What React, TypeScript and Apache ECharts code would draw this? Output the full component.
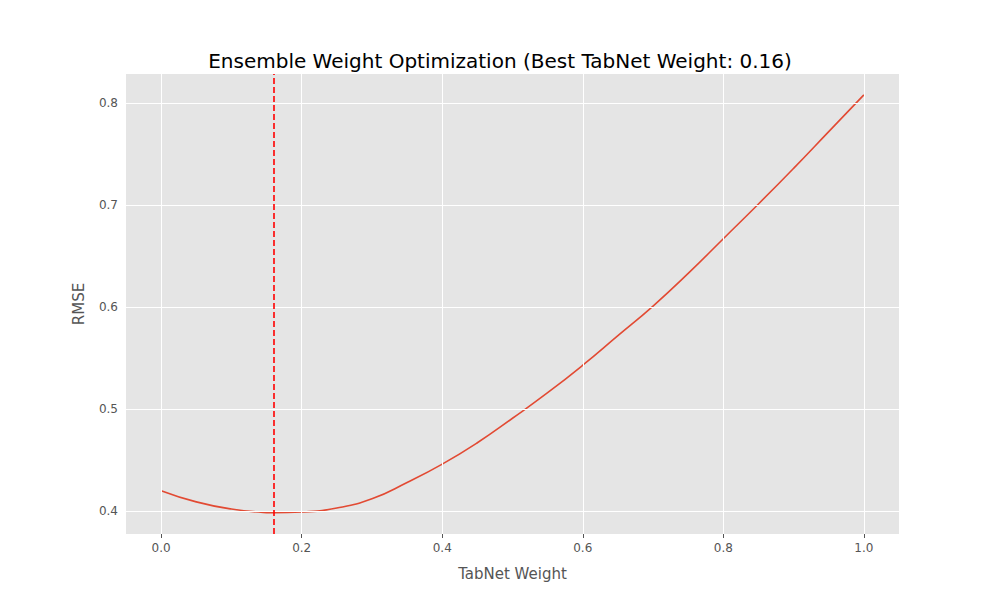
import { useEffect, useRef } from "react";
import * as echarts from "echarts";

const weights = [0, 0.05, 0.1, 0.15, 0.16, 0.2, 0.25, 0.3, 0.35, 0.4, 0.45, 0.5, 0.55, 0.6, 0.65, 0.7, 0.75, 0.8, 0.85, 0.9, 0.95, 1.0];
const rmse = [0.42, 0.409, 0.402, 0.3985, 0.3983, 0.399, 0.403, 0.412, 0.428, 0.446, 0.467, 0.491, 0.516, 0.543, 0.572, 0.601, 0.633, 0.667, 0.701, 0.736, 0.772, 0.808];
const xTicks = [0, 0.2, 0.4, 0.6, 0.8, 1.0];
const yTicks = [0.4, 0.5, 0.6, 0.7, 0.8];
const bestWeight = 0.16;

export default function App() {
    const chartRef = useRef<HTMLDivElement>(null);

    useEffect(() => {
        if (!chartRef.current) return;
        const myChart = echarts.init(chartRef.current, null, { renderer: "svg" });
        const points = weights.map((w, i) => [w, rmse[i]]);
        const gridLine = { color: "#ffffff", width: 1, type: "solid" as const };

        myChart.setOption({
            animation: false,
            title: {
                text: "Ensemble Weight Optimization (Best TabNet Weight: 0.16)",
                left: "center",
                top: 46,
                textStyle: { fontFamily: "DejaVu Sans", fontSize: 20, fontWeight: "normal", color: "#000" },
            },
            grid: { left: 126, right: 101, top: 74, bottom: 66, show: true, backgroundColor: "#E5E5E5", borderWidth: 0 },
            xAxis: {
                type: "value",
                min: -0.05,
                max: 1.05,
                name: "TabNet Weight",
                nameLocation: "middle",
                nameGap: 32,
                nameTextStyle: { fontFamily: "DejaVu Sans", fontSize: 15, color: "#555" },
                axisLine: { show: false },
                splitLine: { show: false },
                axisTick: { show: true, customValues: xTicks, length: 4, lineStyle: { color: "#555" } },
                axisLabel: { customValues: xTicks, fontFamily: "DejaVu Sans", fontSize: 12, color: "#555", formatter: (v: number) => v.toFixed(1) },
            },
            yAxis: {
                type: "value",
                min: 0.3775,
                max: 0.8285,
                name: "RMSE",
                nameLocation: "middle",
                nameGap: 40,
                nameTextStyle: { fontFamily: "DejaVu Sans", fontSize: 15, color: "#555" },
                axisLine: { show: false },
                splitLine: { show: false },
                axisTick: { show: true, customValues: yTicks, length: 4, lineStyle: { color: "#555" } },
                axisLabel: { customValues: yTicks, fontFamily: "DejaVu Sans", fontSize: 12, color: "#555", formatter: (v: number) => v.toFixed(1) },
            },
            series: [
                {
                    type: "line",
                    z: 1,
                    data: points,
                    symbol: "none",
                    silent: true,
                    lineStyle: { opacity: 0 },
                    markLine: {
                        silent: true,
                        symbol: "none",
                        label: { show: false },
                        lineStyle: gridLine,
                        data: [
                            ...xTicks.map((x) => ({ xAxis: x })),
                            ...yTicks.map((y) => ({ yAxis: y })),
                        ],
                    },
                },
                {
                    type: "line",
                    z: 3,
                    data: points,
                    smooth: true,
                    symbol: "none",
                    lineStyle: { color: "#E24A33", width: 1.6 },
                    markLine: {
                        silent: true,
                        symbol: "none",
                        label: { show: false },
                        lineStyle: { color: "red", type: [6, 3], width: 1.6 },
                        data: [{ xAxis: bestWeight }],
                    },
                },
            ],
        });

        return () => {
            myChart.dispose();
        };
    }, []);

    return <div ref={chartRef} style={{ width: 1000, height: 600, position: "absolute", left: 0, top: 0 }} />;
}
